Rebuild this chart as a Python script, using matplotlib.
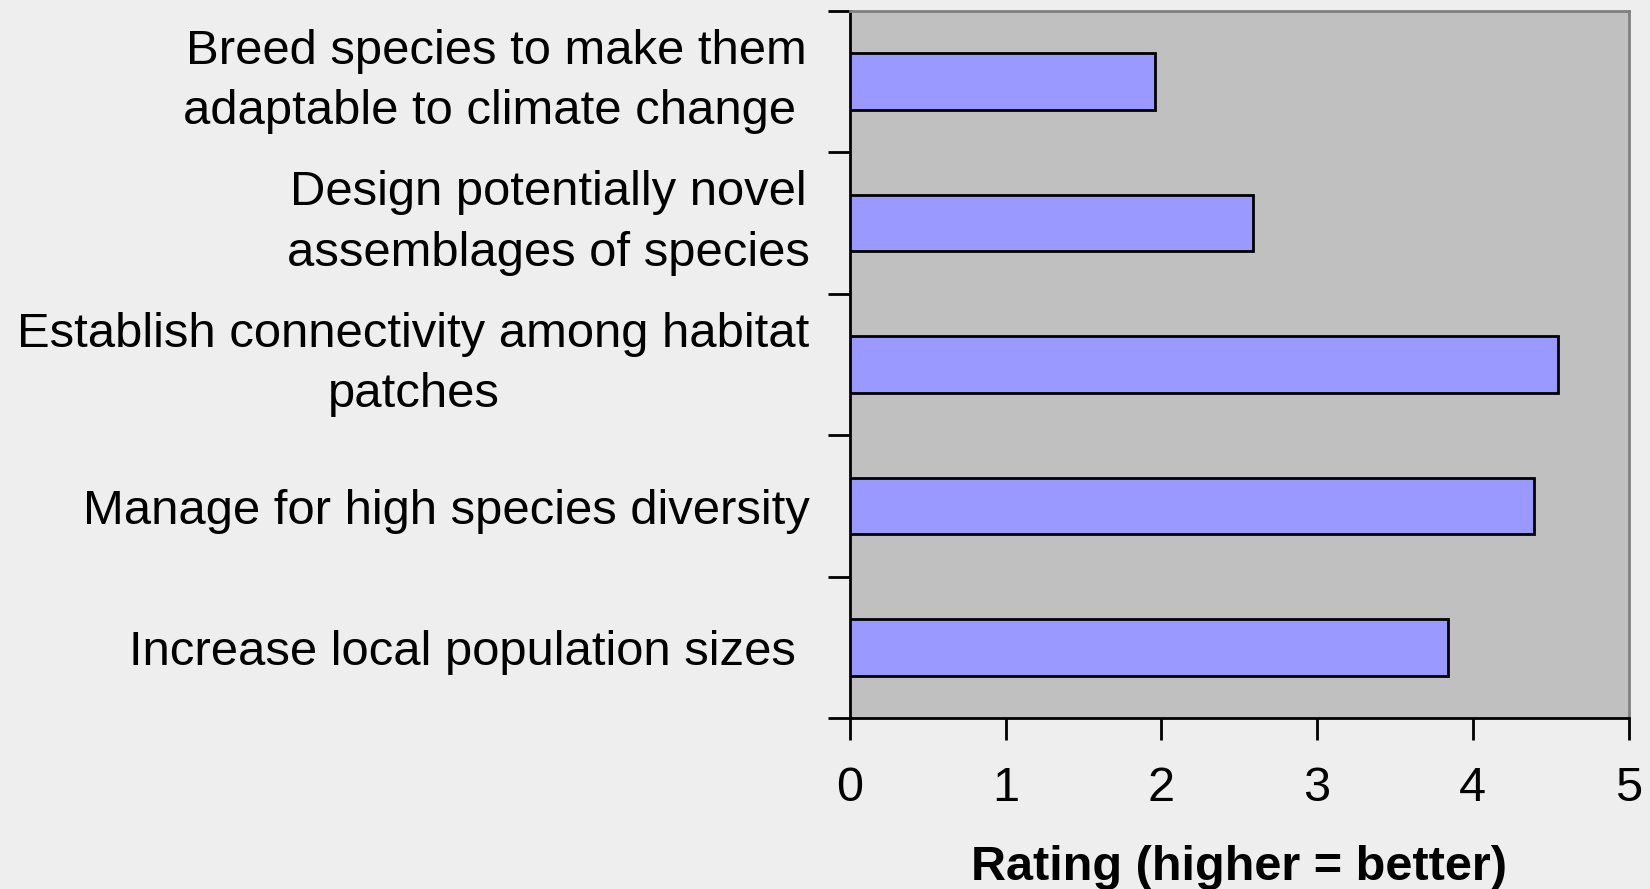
import numpy as np
import matplotlib as mpl
import matplotlib.pyplot as plt

mpl.rcParams['font.family'] = ['Liberation Sans', 'DejaVu Sans']

##########################################
labels = ['Breed species to make them\nadaptable to climate change ',
          'Design potentially novel\nassemblages of species',
          'Establish connectivity among habitat\npatches',
          'Manage for high species diversity',
          'Increase local population sizes ']
ratings = [1.96, 2.59, 4.55, 4.39, 3.84]
xticks = [0, 1, 2, 3, 4, 5]
##########################################

fig = plt.figure(figsize=(16.5, 8.89), dpi=100, facecolor='#eeeeee')
ax = fig.add_axes([0.515, 0.192, 0.472, 0.796])
ax.set_facecolor('#c0c0c0')

pos = np.arange(len(labels))
ax.barh(pos, ratings, height=0.4, color='#9999ff', edgecolor='black', linewidth=2, zorder=3)

ax.set_ylim(len(labels) - 0.5, -0.5)
ax.set_xlim(0, 5)

# category ticks sit between the bars, labels in the middle
ax.set_yticks(np.arange(len(labels) + 1) - 0.5)
ax.set_yticklabels([])
ax.set_yticks(pos, minor=True)
ax.set_yticklabels(labels, minor=True, fontsize=35.3, multialignment='center', linespacing=1.45)
for t in ax.get_yticklabels(minor=True):
    if '\n' in t.get_text():
        t.set_va('center')
ax.tick_params(axis='y', which='minor', length=0, pad=29)
ax.tick_params(axis='y', which='major', length=16, width=2, direction='out')

ax.set_xticks(xticks)
ax.set_xticklabels([str(t) for t in xticks], fontsize=35)
ax.tick_params(axis='x', length=16, width=2, direction='out', pad=18)

for s in ['left', 'bottom']:
    ax.spines[s].set_color('black')
    ax.spines[s].set_linewidth(2)
for s in ['top', 'right']:
    ax.spines[s].set_color('#808080')
    ax.spines[s].set_linewidth(2)

ax.set_xlabel('Rating (higher = better)', fontsize=35, fontweight='bold', labelpad=25)

fig.savefig('out.png', dpi=100, facecolor=fig.get_facecolor())
